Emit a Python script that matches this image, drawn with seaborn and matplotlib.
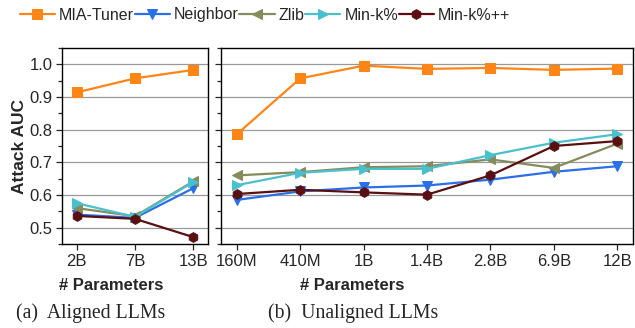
import pandas as pd
import numpy as np
import matplotlib.pyplot as plt
import seaborn as sns
from matplotlib.ticker import MultipleLocator

sns.set_style("ticks")
plt.rcParams['font.family'] = ['Liberation Sans', 'DejaVu Sans']

# Data
methods = ['MIA-Tuner', 'Neighbor', 'Zlib', 'Min-k%', 'Min-k%++']
colors = ['#ff8517', '#2a6ee8', '#858b5c', '#4bc0cd', '#5a1010']
markers = ['s', 'v', '<', '>', 'h']

aligned_sizes = ['2B', '7B', '13B']
aligned_auc = {
    'MIA-Tuner': [0.914, 0.957, 0.983],
    'Neighbor': [0.540, 0.530, 0.621],
    'Zlib': [0.560, 0.535, 0.642],
    'Min-k%': [0.575, 0.533, 0.640],
    'Min-k%++': [0.536, 0.527, 0.471],
}

unaligned_sizes = ['160M', '410M', '1B', '1.4B', '2.8B', '6.9B', '12B']
unaligned_auc = {
    'MIA-Tuner': [0.786, 0.957, 0.996, 0.986, 0.989, 0.983, 0.987],
    'Neighbor': [0.585, 0.611, 0.623, 0.629, 0.647, 0.671, 0.688],
    'Zlib': [0.660, 0.670, 0.685, 0.688, 0.709, 0.683, 0.757],
    'Min-k%': [0.630, 0.668, 0.680, 0.680, 0.722, 0.760, 0.786],
    'Min-k%++': [0.603, 0.616, 0.608, 0.601, 0.660, 0.750, 0.765],
}

fig = plt.figure(figsize=(6.35, 3.28), dpi=100)
ax1 = fig.add_axes([62 / 635, 84 / 328, 146 / 635, 196 / 328])
ax2 = fig.add_axes([221 / 635, 84 / 328, 412 / 635, 196 / 328])


def draw(ax, sizes, auc):
    pos = np.arange(len(sizes))
    for m, c, mk in zip(methods, colors, markers):
        sns.lineplot(x=pos, y=auc[m], ax=ax, color=c, marker=mk, markersize=7,
                     markeredgecolor=c, linewidth=1.6, label=m, legend=False)
    ax.set_xticks(pos)
    ax.set_xticklabels(sizes, fontsize=12)
    ax.set_xlim(pos[0] - 0.25, pos[-1] + 0.25)
    ax.set_ylim(0.45, 1.05)
    ax.yaxis.set_major_locator(MultipleLocator(0.1))
    ax.yaxis.set_minor_locator(MultipleLocator(0.05))
    ax.grid(True, axis='y', which='major', color='#999999', linewidth=0.9)
    ax.set_axisbelow(True)
    for s in ax.spines.values():
        s.set_color('black')
        s.set_linewidth(1.0)
    ax.tick_params(axis='both', which='major', length=4, width=0.9, labelsize=12, pad=3)
    ax.tick_params(axis='y', which='minor', length=3, width=0.9)
    ax.set_xlabel('# Parameters', fontsize=12, fontweight='bold')


draw(ax1, aligned_sizes, aligned_auc)
draw(ax2, unaligned_sizes, unaligned_auc)

ax1.set_ylabel('Attack AUC', fontsize=12.5, fontweight='bold')
ax1.set_yticks([0.5, 0.6, 0.7, 0.8, 0.9, 1.0])
ax1.set_yticklabels(['0.5', '0.6', '0.7', '0.8', '0.9', '1.0'])
ax2.tick_params(axis='y', which='both', labelleft=False)

ax1.xaxis.set_label_coords(0.336, -0.175)
ax2.xaxis.set_label_coords(0.318, -0.175)
ax1.yaxis.set_label_coords(-0.24, 0.5)

handles, labels = ax2.get_legend_handles_labels()
fig.legend(handles, labels, loc='center', bbox_to_anchor=(265 / 635, 1 - 15 / 328),
           ncol=5, frameon=False, fontsize=11.5, handlelength=2.2,
           handletextpad=0.25, columnspacing=0.05, borderaxespad=0)

fig.text(16 / 635, 1 - 313 / 328, '(a)  Aligned LLMs', fontsize=14.2,
         family='Liberation Serif', va='center', ha='left')
fig.text(268 / 635, 1 - 313 / 328, '(b)  Unaligned LLMs', fontsize=14.2,
         family='Liberation Serif', va='center', ha='left')

plt.savefig('out.png', dpi=100)
plt.close()
